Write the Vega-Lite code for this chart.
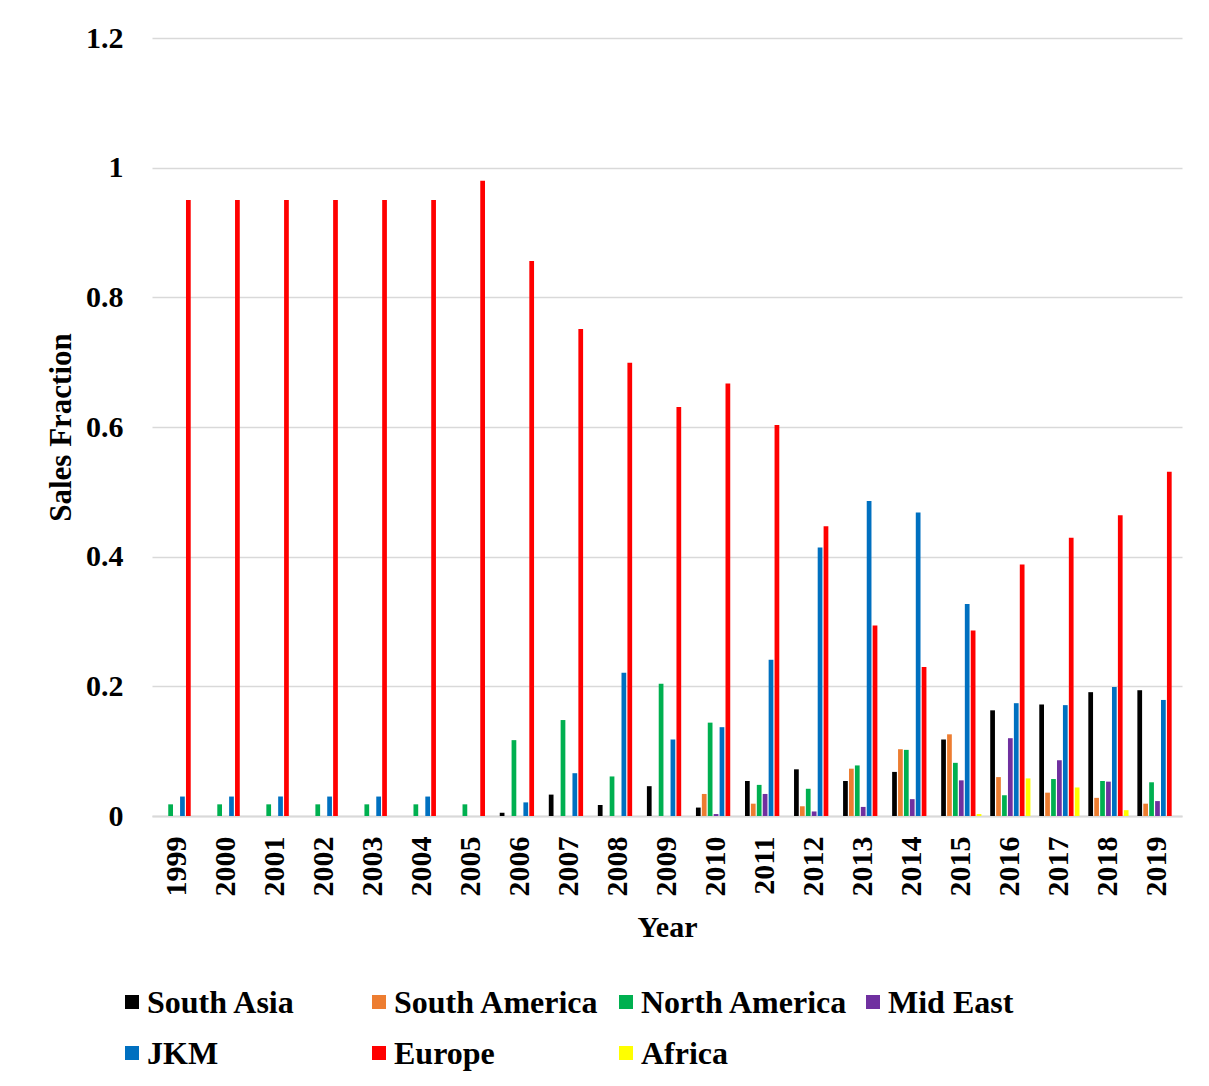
{
  "$schema": "https://vega.github.io/schema/vega-lite/v6.json",
  "description": "Sales fraction by destination region, 1999-2019, grouped bars with a key drawn below the plot",
  "width": 1030,
  "height": 778,
  "autosize": {"type": "none"},
  "padding": {"left": 152, "top": 38, "right": 27, "bottom": 270},
  "background": "white",
  "config": {
    "font": "Liberation Serif",
    "view": {"stroke": null},
    "axis": {"labelFont": "Liberation Serif", "titleFont": "Liberation Serif", "labelColor": "#000000", "titleColor": "#000000"}
  },
  "resolve": {"scale": {"x": "independent", "y": "independent"}},
  "layer": [
    {
      "data": {
        "values": [
          {"year": 1999, "region": "North America", "fraction": 0.018},
          {"year": 1999, "region": "JKM", "fraction": 0.03},
          {"year": 1999, "region": "Europe", "fraction": 0.95},
          {"year": 2000, "region": "North America", "fraction": 0.018},
          {"year": 2000, "region": "JKM", "fraction": 0.03},
          {"year": 2000, "region": "Europe", "fraction": 0.95},
          {"year": 2001, "region": "North America", "fraction": 0.018},
          {"year": 2001, "region": "JKM", "fraction": 0.03},
          {"year": 2001, "region": "Europe", "fraction": 0.95},
          {"year": 2002, "region": "North America", "fraction": 0.018},
          {"year": 2002, "region": "JKM", "fraction": 0.03},
          {"year": 2002, "region": "Europe", "fraction": 0.95},
          {"year": 2003, "region": "North America", "fraction": 0.018},
          {"year": 2003, "region": "JKM", "fraction": 0.03},
          {"year": 2003, "region": "Europe", "fraction": 0.95},
          {"year": 2004, "region": "North America", "fraction": 0.018},
          {"year": 2004, "region": "JKM", "fraction": 0.03},
          {"year": 2004, "region": "Europe", "fraction": 0.95},
          {"year": 2005, "region": "North America", "fraction": 0.018},
          {"year": 2005, "region": "Europe", "fraction": 0.98},
          {"year": 2006, "region": "South Asia", "fraction": 0.005},
          {"year": 2006, "region": "North America", "fraction": 0.117},
          {"year": 2006, "region": "JKM", "fraction": 0.021},
          {"year": 2006, "region": "Europe", "fraction": 0.856},
          {"year": 2007, "region": "South Asia", "fraction": 0.033},
          {"year": 2007, "region": "North America", "fraction": 0.148},
          {"year": 2007, "region": "JKM", "fraction": 0.066},
          {"year": 2007, "region": "Europe", "fraction": 0.751},
          {"year": 2008, "region": "South Asia", "fraction": 0.017},
          {"year": 2008, "region": "North America", "fraction": 0.061},
          {"year": 2008, "region": "JKM", "fraction": 0.221},
          {"year": 2008, "region": "Europe", "fraction": 0.699},
          {"year": 2009, "region": "South Asia", "fraction": 0.046},
          {"year": 2009, "region": "North America", "fraction": 0.204},
          {"year": 2009, "region": "JKM", "fraction": 0.118},
          {"year": 2009, "region": "Europe", "fraction": 0.631},
          {"year": 2010, "region": "South Asia", "fraction": 0.013},
          {"year": 2010, "region": "South America", "fraction": 0.034},
          {"year": 2010, "region": "North America", "fraction": 0.144},
          {"year": 2010, "region": "Mid East", "fraction": 0.003},
          {"year": 2010, "region": "JKM", "fraction": 0.137},
          {"year": 2010, "region": "Europe", "fraction": 0.667},
          {"year": 2011, "region": "South Asia", "fraction": 0.054},
          {"year": 2011, "region": "South America", "fraction": 0.019},
          {"year": 2011, "region": "North America", "fraction": 0.048},
          {"year": 2011, "region": "Mid East", "fraction": 0.034},
          {"year": 2011, "region": "JKM", "fraction": 0.241},
          {"year": 2011, "region": "Europe", "fraction": 0.603},
          {"year": 2012, "region": "South Asia", "fraction": 0.072},
          {"year": 2012, "region": "South America", "fraction": 0.015},
          {"year": 2012, "region": "North America", "fraction": 0.042},
          {"year": 2012, "region": "Mid East", "fraction": 0.007},
          {"year": 2012, "region": "JKM", "fraction": 0.414},
          {"year": 2012, "region": "Europe", "fraction": 0.447},
          {"year": 2013, "region": "South Asia", "fraction": 0.054},
          {"year": 2013, "region": "South America", "fraction": 0.073},
          {"year": 2013, "region": "North America", "fraction": 0.078},
          {"year": 2013, "region": "Mid East", "fraction": 0.014},
          {"year": 2013, "region": "JKM", "fraction": 0.486},
          {"year": 2013, "region": "Europe", "fraction": 0.294},
          {"year": 2014, "region": "South Asia", "fraction": 0.068},
          {"year": 2014, "region": "South America", "fraction": 0.103},
          {"year": 2014, "region": "North America", "fraction": 0.102},
          {"year": 2014, "region": "Mid East", "fraction": 0.026},
          {"year": 2014, "region": "JKM", "fraction": 0.468},
          {"year": 2014, "region": "Europe", "fraction": 0.23},
          {"year": 2015, "region": "South Asia", "fraction": 0.118},
          {"year": 2015, "region": "South America", "fraction": 0.126},
          {"year": 2015, "region": "North America", "fraction": 0.082},
          {"year": 2015, "region": "Mid East", "fraction": 0.055},
          {"year": 2015, "region": "JKM", "fraction": 0.327},
          {"year": 2015, "region": "Europe", "fraction": 0.286},
          {"year": 2015, "region": "Africa", "fraction": 0.003},
          {"year": 2016, "region": "South Asia", "fraction": 0.163},
          {"year": 2016, "region": "South America", "fraction": 0.06},
          {"year": 2016, "region": "North America", "fraction": 0.032},
          {"year": 2016, "region": "Mid East", "fraction": 0.12},
          {"year": 2016, "region": "JKM", "fraction": 0.174},
          {"year": 2016, "region": "Europe", "fraction": 0.388},
          {"year": 2016, "region": "Africa", "fraction": 0.058},
          {"year": 2017, "region": "South Asia", "fraction": 0.172},
          {"year": 2017, "region": "South America", "fraction": 0.036},
          {"year": 2017, "region": "North America", "fraction": 0.057},
          {"year": 2017, "region": "Mid East", "fraction": 0.086},
          {"year": 2017, "region": "JKM", "fraction": 0.171},
          {"year": 2017, "region": "Europe", "fraction": 0.429},
          {"year": 2017, "region": "Africa", "fraction": 0.044},
          {"year": 2018, "region": "South Asia", "fraction": 0.191},
          {"year": 2018, "region": "South America", "fraction": 0.028},
          {"year": 2018, "region": "North America", "fraction": 0.054},
          {"year": 2018, "region": "Mid East", "fraction": 0.053},
          {"year": 2018, "region": "JKM", "fraction": 0.199},
          {"year": 2018, "region": "Europe", "fraction": 0.464},
          {"year": 2018, "region": "Africa", "fraction": 0.009},
          {"year": 2019, "region": "South Asia", "fraction": 0.194},
          {"year": 2019, "region": "South America", "fraction": 0.019},
          {"year": 2019, "region": "North America", "fraction": 0.052},
          {"year": 2019, "region": "Mid East", "fraction": 0.023},
          {"year": 2019, "region": "JKM", "fraction": 0.179},
          {"year": 2019, "region": "Europe", "fraction": 0.531}
        ]
      },
      "mark": {"type": "bar"},
      "encoding": {
        "x": {
          "field": "year",
          "type": "nominal",
          "scale": {"paddingInner": 0.18, "paddingOuter": 0.09},
          "axis": {
            "title": "Year",
            "titleFontSize": 30,
            "titleFontWeight": "bold",
            "titlePadding": 16,
            "labelAngle": -90,
            "labelFontSize": 30,
            "labelFontWeight": "bold",
            "labelPadding": 20,
            "ticks": false,
            "domain": true,
            "domainColor": "#d9d9d9",
            "domainWidth": 2,
            "grid": false
          }
        },
        "xOffset": {
          "field": "region",
          "type": "nominal",
          "scale": {
            "domain": ["South Asia", "South America", "North America", "Mid East", "JKM", "Europe", "Africa"],
            "paddingInner": 0.2,
            "paddingOuter": 0
          }
        },
        "y": {
          "field": "fraction",
          "type": "quantitative",
          "scale": {"domain": [0, 1.2], "nice": false},
          "axis": {
            "title": "Sales Fraction",
            "titleFontSize": 31,
            "titleFontWeight": "bold",
            "titlePadding": 8,
            "values": [0, 0.2, 0.4, 0.6, 0.8, 1, 1.2],
            "format": ".1~f",
            "labelFontSize": 30,
            "labelFontWeight": "bold",
            "labelPadding": 29,
            "ticks": false,
            "domain": false,
            "grid": true,
            "gridColor": "#d9d9d9",
            "gridWidth": 1.5
          }
        },
        "color": {
          "field": "region",
          "type": "nominal",
          "scale": {
            "domain": ["South Asia", "South America", "North America", "Mid East", "JKM", "Europe", "Africa"],
            "range": ["#000000", "#ED7D31", "#00B050", "#7030A0", "#0070C0", "#FF0000", "#FFFF00"]
          },
          "legend": null
        }
      }
    },
    {
      "data": {
        "values": [
          {"region": "South Asia"},
          {"region": "South America"},
          {"region": "North America"},
          {"region": "Mid East"},
          {"region": "JKM"},
          {"region": "Europe"},
          {"region": "Africa"}
        ]
      },
      "transform": [
        {"window": [{"op": "row_number", "as": "idx"}]},
        {"calculate": "(datum.idx - 1) % 4", "as": "keyCol"},
        {"calculate": "floor((datum.idx - 1) / 4)", "as": "keyRow"}
      ],
      "encoding": {
        "x": {
          "field": "keyCol",
          "type": "ordinal",
          "scale": {"range": [-143.5, 844.5], "paddingInner": 0, "paddingOuter": 0},
          "axis": null
        },
        "y": {
          "field": "keyRow",
          "type": "ordinal",
          "scale": {"range": [938.5, 1040.5], "paddingInner": 0, "paddingOuter": 0},
          "axis": null
        }
      },
      "layer": [
        {
          "mark": {"type": "square", "size": 196, "opacity": 1, "filled": true},
          "encoding": {
            "color": {"field": "region", "type": "nominal", "legend": null}
          }
        },
        {
          "mark": {
            "type": "text",
            "align": "left",
            "baseline": "middle",
            "dx": 15,
            "dy": 1,
            "font": "Liberation Serif",
            "fontSize": 32,
            "fontWeight": "bold",
            "color": "#000000"
          },
          "encoding": {
            "text": {"field": "region", "type": "nominal"}
          }
        }
      ]
    }
  ]
}
